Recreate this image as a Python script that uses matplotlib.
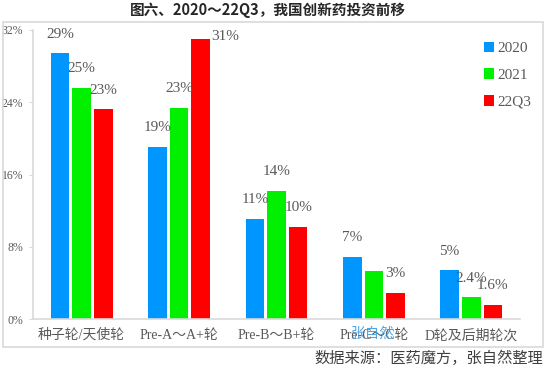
import matplotlib.pyplot as plt
from matplotlib.patches import Rectangle
import numpy as np

# 数据
categories = ['种子轮/天使轮', 'Pre-A～A+轮', 'Pre-B～B+轮', 'Pre-C～C轮', 'D轮及后期轮次']
series = ['2020', '2021', '22Q3']
v2020 = [29.4, 19.1, 11.1, 6.9, 5.4]
v2021 = [25.6, 23.4, 14.2, 5.3, 2.4]
v22q3 = [23.2, 31.0, 10.2, 2.9, 1.6]
lab2020 = ['29%', '19%', '11%', '7%', '5%']
lab2021 = ['25%', '23%', '14%', '', '2.4%']
lab22q3 = ['23%', '31%', '10%', '3%', '1.6%']
yticks = [0, 8, 16, 24, 32]
colors = ['#0096FF', '#00F000', '#FF0000']

gray = '#595959'
cjk = ['Liberation Serif', 'Noto Sans CJK SC']

fig = plt.figure(figsize=(5.5, 3.69), dpi=100)
# 外框
fig.patches.append(Rectangle((3/550, 1-347/369), 540/550, 325/369, transform=fig.transFigure,
                             fill=False, edgecolor='#d9d9d9', linewidth=1.2))

ax = fig.add_axes([33/550, 1-319/369, 487/550, 289/369])
x = np.arange(len(categories))
w = 0.19
step = 0.222
for i, (vals, labs) in enumerate([(v2020, lab2020), (v2021, lab2021), (v22q3, lab22q3)]):
    pos = x + (i - 1) * step
    ax.bar(pos, vals, width=w, color=colors[i], label=series[i])
    for p, v, l in zip(pos, vals, labs):
        if not l:
            continue
        if v > 30:
            # 顶部放不下，放在柱子右侧
            ax.annotate(l, (p + w / 2, v), xytext=(1, 2), textcoords='offset points',
                        ha='left', va='center', fontsize=11, color=gray,
                        family='Liberation Serif')
        else:
            ax.annotate(l, (p, v), xytext=(0, 9), textcoords='offset points',
                        ha='center', va='bottom', fontsize=11, color=gray,
                        family='Liberation Serif')

ax.set_xlim(-0.5, len(categories) - 0.5)
ax.set_ylim(0, 32)
ax.set_yticks(yticks)
ax.set_yticklabels([f'{t}%' for t in yticks], fontsize=8.5, color=gray, family='Liberation Serif')
ax.set_xticks(x)
ax.set_xticklabels(categories, fontsize=10, color=gray, family=cjk)
ax.tick_params(axis='x', length=0, pad=7)
ax.tick_params(axis='y', length=3, color='#d9d9d9', pad=4)
for s in ['top', 'right']:
    ax.spines[s].set_visible(False)
for s in ['left', 'bottom']:
    ax.spines[s].set_color('#d9d9d9')
    ax.spines[s].set_linewidth(1.2)

leg = fig.legend(loc='upper left', bbox_to_anchor=(470/550, 1-28/369), frameon=False,
                 handlelength=0.7, handleheight=0.7, handletextpad=0.2, labelspacing=0.85,
                 prop={'family': 'Liberation Serif', 'size': 11})
for t in leg.get_texts():
    t.set_color(gray)

fig.text(0.488, 1-10/369, '图六、2020～22Q3，我国创新药投资前移', ha='center', va='center',
         fontsize=10.5, fontweight='bold', family=['Noto Sans CJK SC'], color='#262626')
fig.text(373/550, 1-334/369, '张自然', ha='center', va='center', fontsize=10.5,
         color='#3d9be0', family=['Noto Sans CJK SC'], alpha=0.9)
fig.text(543/550, 1-358/369, '数据来源：医药魔方，张自然整理', ha='right', va='center',
         fontsize=11, color='#404040', family=['Noto Sans CJK SC'])

plt.savefig('out.png', dpi=100)
